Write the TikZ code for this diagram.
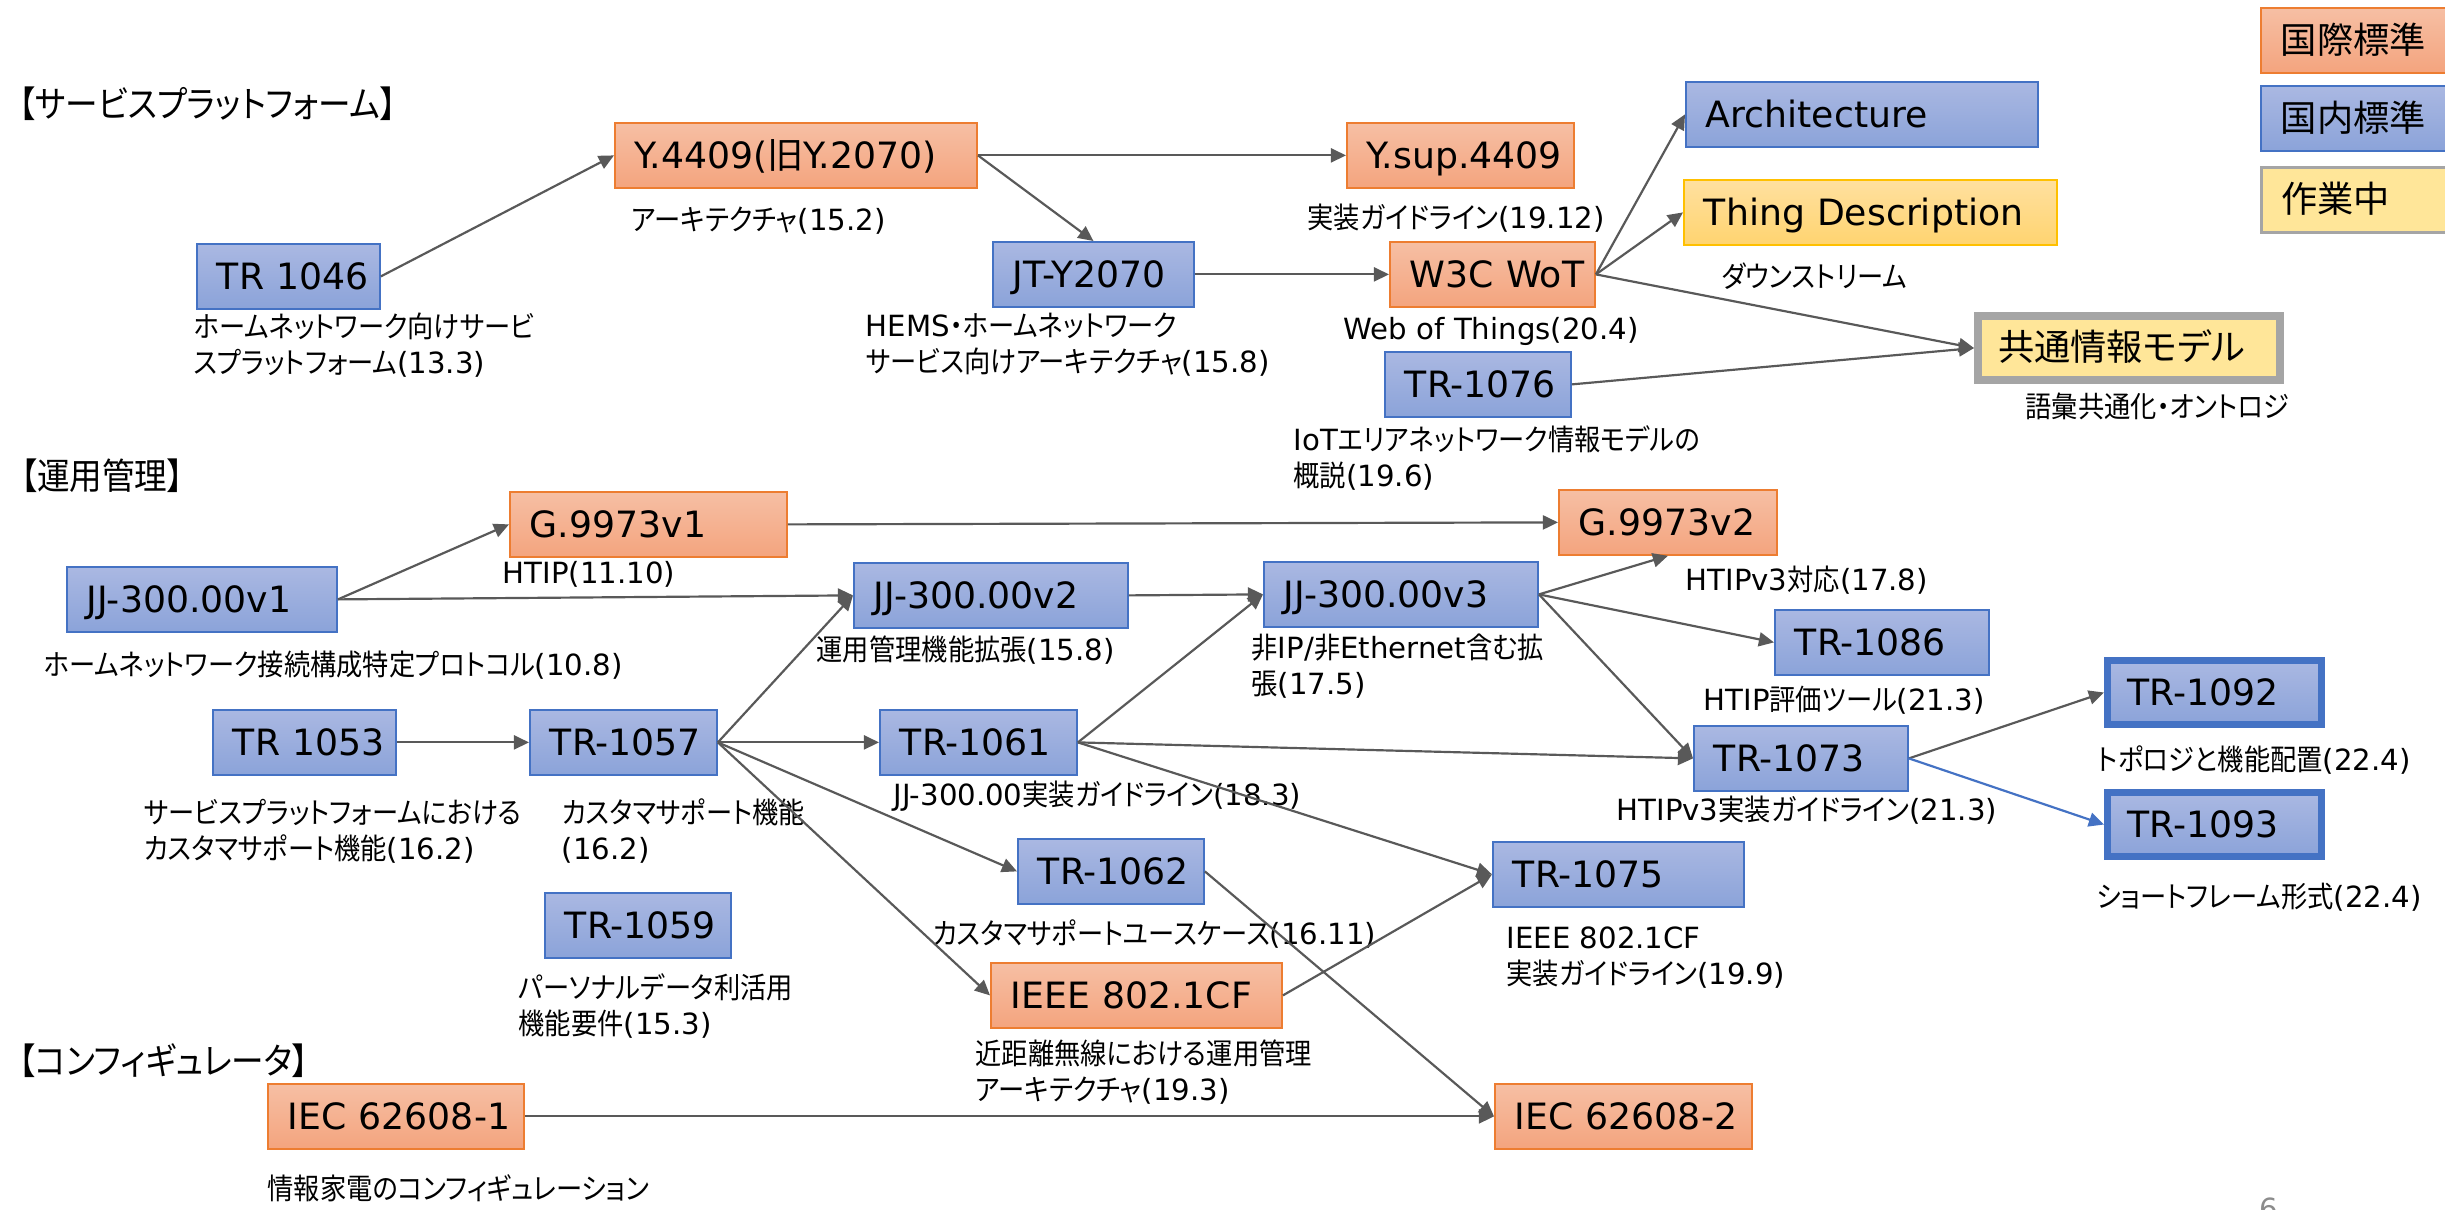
\documentclass[tikz,border=0pt]{standalone}
\usepackage{fontspec}
\setmainfont{DejaVu Sans}
% narrow kana for running labels, full width for kanji-only box texts
\newfontfamily\jp[RawFeature=+palt, FakeStretch=0.9]{Noto Sans CJK JP}
\newfontfamily\jpk[RawFeature=+palt]{Noto Sans CJK JP}
\usetikzlibrary{arrows.meta}

\definecolor{orTop}{HTML}{F6BFA4}
\definecolor{orBot}{HTML}{F4A47E}
\definecolor{orLine}{HTML}{ED7D31}
\definecolor{blTop}{HTML}{AAB8E2}
\definecolor{blBot}{HTML}{8BA3D9}
\definecolor{blLine}{HTML}{4472C4}
\definecolor{ywTop}{HTML}{FFE09F}
\definecolor{ywBot}{HTML}{FFD470}
\definecolor{ywLine}{HTML}{FFC000}
\definecolor{kyFill}{HTML}{FFE699}
\definecolor{kyLine}{HTML}{A5A5A5}
\definecolor{lnGray}{HTML}{595959}
\definecolor{pgGray}{HTML}{8C8C8C}

\newcommand\boxfont{\fontsize{10.3}{12}\selectfont}
\newcommand\lblfont{\fontsize{8.3}{10.25}\selectfont}

\tikzset{
  boxbase/.style={draw, line width=0.5pt, inner xsep=0.2cm, inner ysep=0pt,
    minimum height=0.65cm, anchor=north west, align=left, font=\boxfont,
    text height=0.73em, text depth=0pt,
    execute at begin node={\hbox\bgroup}, execute at end node={\egroup}},
  intl/.style={boxbase, top color=orTop, bottom color=orBot, draw=orLine},
  dom/.style={boxbase, top color=blTop, bottom color=blBot, draw=blLine},
  domthick/.style={dom, line width=2pt, minimum height=0.64cm},
  wip/.style={boxbase, top color=ywTop, bottom color=ywBot, draw=ywLine},
  wipflat/.style={boxbase, fill=kyFill, draw=kyLine},
  lbl/.style={font=\lblfont, inner sep=0pt, anchor=west, align=left},
  hdr/.style={font=\boxfont\jp, inner sep=0pt, anchor=west},
  arr/.style={draw=lnGray, line width=0.62pt, -{Triangle[length=4.3pt,width=4pt]}},
  arrblue/.style={arr, draw=blLine},
}

\begin{document}
\begin{tikzpicture}[x=0.01cm, y=-0.01cm]
\useasboundingbox (0,0) rectangle (2445,1210);
\clip (0,0) rectangle (2445,1210);
\fill[white] (0,0) rectangle (2445,1210);

% ---- section headers ----
\node[hdr] (hsvc) at (18,104) {【サービスプラットフォーム】};
\node[hdr] (hops) at (20,476) {【運用管理】};
\node[hdr] (hcfg) at (18,1061) {【コンフィギュレータ】};

% ---- legend ----
\node[intl, text width=1.80cm] (legI) at (2260,7) {{\jpk 国際標準}};
\node[dom, text width=1.80cm] (legD) at (2260,85) {{\jpk 国内標準}};
\node[wipflat, line width=0.8pt, text width=1.80cm] (legW) at (2260,166) {{\jpk 作業中}};

% ---- descriptions under the boxes ----
\node[lbl] (d4409) at (631,221) {{\jp アーキテクチャ}(15.2)};
\node[lbl] (d1046) at (193,345) {{\jp ホームネットワーク向けサービ}\\{\jp スプラットフォーム}(13.3)};
\node[lbl] (dJTY) at (865,345) {HEMS{\jp ・ホームネットワーク}\\{\jp サービス向けアーキテクチャ}(15.8)};
\node[lbl] (dYsup) at (1307,218) {{\jp 実装ガイドライン}(19.12)};
\node[lbl] (dTD) at (1721,276) {{\jp ダウンストリーム}};
\node[lbl] (dW3C) at (1343,331) {Web of Things(20.4)};
\node[lbl] (d1076) at (1293,458) {IoT{\jp エリアネットワーク情報モデルの}\\{\jp 概説}(19.6)};
\node[lbl] (dKy) at (2025,406) {{\jp 語彙共通化・オントロジ}};
\node[lbl] (dG1) at (502,574) {HTIP(11.10)};
\node[lbl] (dJJ1) at (43,665) {{\jp ホームネットワーク接続構成特定プロトコル}(10.8)};
\node[lbl] (dJJ2) at (816,650) {{\jp 運用管理機能拡張}(15.8)};
\node[lbl] (dJJ3) at (1251,666) {{\jp 非}IP/{\jp 非}Ethernet{\jp 含む拡}\\{\jp 張}(17.5)};
\node[lbl] (dG2) at (1685,580) {HTIPv3{\jp 対応}(17.8)};
\node[lbl] (d1086) at (1703,700) {HTIP{\jp 評価ツール}(21.3)};
\node[lbl] (d1053) at (143,831) {{\jp サービスプラットフォームにおける}\\{\jp カスタマサポート機能}(16.2)};
\node[lbl] (d1057) at (561,831) {{\jp カスタマサポート機能}\\(16.2)};
\node[lbl] (d1061) at (893,796) {JJ-300.00{\jp 実装ガイドライン}(18.3)};
\node[lbl] (d1073) at (1616,810) {HTIPv3{\jp 実装ガイドライン}(21.3)};
\node[lbl] (d1092) at (2097,760) {{\jp トポロジと機能配置}(22.4)};
\node[lbl] (d1093) at (2096,897) {{\jp ショートフレーム形式}(22.4)};
\node[lbl] (d1062) at (932,934) {{\jp カスタマサポートユースケース}(16.11)};
\node[lbl] (d1075) at (1506,958) {IEEE 802.1CF\\{\jp 実装ガイドライン}(19.9)};
\node[lbl] (d1059) at (518,1006) {{\jp パーソナルデータ利活用}\\{\jp 機能要件}(15.3)};
\node[lbl] (dIEEE) at (975,1072) {{\jp 近距離無線における運用管理}\\{\jp アーキテクチャ}(19.3)};
\node[lbl] (dIEC1) at (267,1188) {{\jp 情報家電のコンフィギュレーション}};

% ---- service platform ----
\node[dom, text width=1.43cm] (tr1046) at (196,243) {TR 1046};
\node[intl, text width=3.22cm] (y4409) at (614,122) {Y.4409({\jpk 旧}Y.2070)};
\node[intl, text width=1.87cm] (ysup) at (1346,122) {Y.sup.4409};
\node[dom, text width=1.61cm] (jty) at (992,241) {JT-Y2070};
\node[intl, text width=1.65cm] (w3c) at (1389,241) {W3C WoT};
\node[dom, text width=3.12cm] (arch) at (1685,81) {Architecture};
\node[wip, text width=3.33cm] (td) at (1683,179) {Thing Description};
\node[dom, text width=1.46cm] (tr1076) at (1384,351) {TR-1076};
\node[wipflat, line width=2.3pt, minimum height=0.64cm, text width=2.62cm] (kyotsu) at (1974,312) {{\jpk 共通情報モデル}};

% ---- operation management ----
\node[intl, text width=2.37cm] (g1) at (509,491) {G.9973v1};
\node[dom, text width=2.30cm] (jjv1) at (66,566) {JJ-300.00v1};
\node[dom, text width=2.34cm] (jjv2) at (853,562) {JJ-300.00v2};
\node[dom, text width=1.43cm] (tr1053) at (212,709) {TR 1053};
\node[dom, text width=1.47cm] (tr1057) at (529,709) {TR-1057};
\node[dom, text width=1.57cm] (tr1061) at (879,709) {TR-1061};
\node[dom, text width=2.34cm] (jjv3) at (1263,561) {JJ-300.00v3};
\node[intl, text width=1.78cm] (g2) at (1558,489) {G.9973v2};
\node[dom, text width=1.74cm] (tr1086) at (1774,609) {TR-1086};
\node[dom, text width=1.74cm] (tr1073) at (1693,725) {TR-1073};
\node[domthick, text width=1.74cm] (tr1092) at (2104,657) {TR-1092};
\node[domthick, text width=1.74cm] (tr1093) at (2104,789) {TR-1093};
\node[dom, text width=1.46cm] (tr1062) at (1017,838) {TR-1062};
\node[dom, text width=2.11cm] (tr1075) at (1492,841) {TR-1075};
\node[dom, text width=1.46cm] (tr1059) at (544,892) {TR-1059};
\node[intl, text width=2.51cm] (ieee) at (990,962) {IEEE 802.1CF};

% ---- configurator ----
\node[intl, text width=2.16cm] (iec1) at (267,1083) {IEC 62608-1};
\node[intl, text width=2.17cm] (iec2) at (1494,1083) {IEC 62608-2};

% ---- connectors ----
\draw[arr] (tr1046.east) -- (y4409.west);
\draw[arr] (y4409.east) -- (ysup.west);
\draw[arr] (y4409.east) -- (jty.north);
\draw[arr] (jty.east) -- (w3c.west);
\draw[arr] (w3c.east) -- (arch.west);
\draw[arr] (w3c.east) -- (td.west);
\draw[arr] (w3c.east) -- (kyotsu.west);
\draw[arr] (tr1076.east) -- (kyotsu.west);

\draw[arr] (jjv1.east) -- (g1.west);
\draw[arr] (jjv1.east) -- (jjv2.west);
\draw[arr] (g1.east) -- (g2.west);
\draw[arr] (tr1053.east) -- (tr1057.west);
\draw[arr] (tr1057.east) -- (jjv2.west);
\draw[arr] (tr1057.east) -- (tr1061.west);
\draw[arr] (tr1057.east) -- (tr1062.west);
\draw[arr] (tr1057.east) -- (ieee.west);
\draw[arr] (jjv2.east) -- (jjv3.west);
\draw[arr] (tr1061.east) -- (jjv3.west);
\draw[arr] (tr1061.east) -- (tr1073.west);
\draw[arr] (tr1061.east) -- (tr1075.west);
\draw[arr] (jjv3.east) -- (g2.south);
\draw[arr] (jjv3.east) -- (tr1086.west);
\draw[arr] (jjv3.east) -- (tr1073.west);
\draw[arr] (tr1073.east) -- (tr1092.west);
\draw[arrblue] (tr1073.east) -- (tr1093.west);
\draw[arr] (tr1062.east) -- (iec2.west);
\draw[arr] (ieee.east) -- (tr1075.west);
\draw[arr] (iec1.east) -- (iec2.west);

% ---- page number ----
\node[font=\lblfont, text=pgGray, inner sep=0pt, anchor=north west] (pgnum) at (2259,1197) {6};
\end{tikzpicture}
\end{document}
